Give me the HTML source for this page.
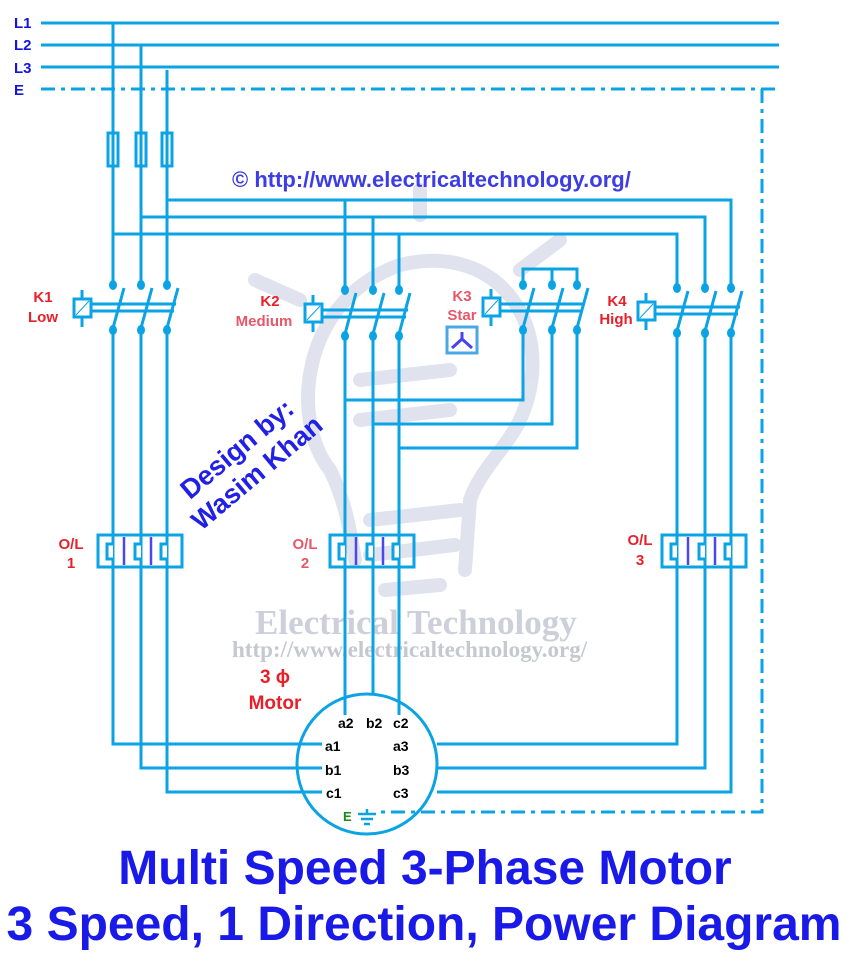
<!DOCTYPE html>
<html><head><meta charset="utf-8"><style>
html,body{margin:0;padding:0;background:#fff;}
svg{display:block;}
.w{stroke:#0aa3e4;stroke-width:3;fill:none;}
.t{font-family:"Liberation Sans",sans-serif;font-weight:bold;}
</style></head><body>
<svg width="849" height="965" viewBox="0 0 849 965" xmlns="http://www.w3.org/2000/svg">
<!-- watermark bulb -->
<g stroke="#d3d8e8" stroke-width="14" fill="none" stroke-linecap="round" opacity="0.7">
<path d="M330 470 C290 420 300 300 400 265 C500 240 560 330 520 420 C505 450 480 470 470 500"/>
<path d="M330 470 C345 500 350 530 355 560"/>
<path d="M470 500 L465 570"/>
<path d="M360 380 L450 370 M360 420 L450 410"/>
<path d="M370 520 L460 510 M370 555 L455 545 M385 590 L440 585"/>
<path d="M255 280 L300 300 M560 240 L520 270 M420 190 L420 215"/>
</g>
<text x="255" y="634" font-family="Liberation Serif,serif" font-size="35" font-weight="bold" fill="#cdd0da">Electrical Technology</text>
<text x="232" y="657" font-family="Liberation Serif,serif" font-size="23" font-weight="bold" fill="#c6c8d0">http://www.electricaltechnology.org/</text>

<!-- supply lines -->
<g class="t" fill="#1515e0" font-size="15">
<text x="14" y="28">L1</text><text x="14" y="50">L2</text><text x="14" y="73">L3</text><text x="14" y="95">E</text>
</g>
<g class="w">
<line x1="41" y1="23" x2="779" y2="23"/>
<line x1="41" y1="45" x2="779" y2="45"/>
<line x1="41" y1="67" x2="779" y2="67"/>
<path d="M41 89 H779" stroke-dasharray="14,6,4,6"/>
<path d="M762 89 V812 H380" stroke-dasharray="14,6,4,6"/>
<rect x="108" y="133" width="10" height="33"/><rect x="136" y="133" width="10" height="33"/><rect x="162" y="133" width="10" height="33"/>
<path d="M113 23 V285 M113 330 V744 H322"/>
<path d="M141 45 V285 M141 330 V768 H322"/>
<path d="M167 70 V285 M167 330 V792 H322"/>
<path d="M167 200 H731 V288"/>
<path d="M141 217 H705 V288"/>
<path d="M113 234 H677 V288"/>
<path d="M345 200 V290 M345 336 V715"/>
<path d="M373 217 V290 M373 336 V693"/>
<path d="M399 234 V290 M399 336 V715"/>
<path d="M523 285 V269 H577 V285 M552 269 V285"/>
<path d="M523 330 V400 H345"/>
<path d="M552 330 V424 H373"/>
<path d="M577 330 V448 H399"/>
<path d="M677 333 V744 H437"/>
<path d="M705 333 V768 H437"/>
<path d="M731 333 V792 H437"/>
<path d="M113 328 L124 288 M141 328 L152 288 M167 328 L178 288"/>
<path d="M345 334 L356 293 M373 334 L384 293 M399 334 L410 293"/>
<path d="M523 328 L534 288 M552 328 L563 288 M577 328 L588 288"/>
<path d="M677 331 L688 291 M705 331 L716 291 M731 331 L742 291"/>
<path d="M91 304 H176 M91 311 H174"/>
<path d="M322 310 H408 M322 317 H406"/>
<path d="M500 304 H583 M500 311 H581"/>
<path d="M655 307 H740 M655 314 H738"/>
<rect x="74" y="299" width="17" height="18"/><path d="M82 290 V299 M82 317 V327"/>
<rect x="305" y="304" width="17" height="18"/><path d="M313 295 V304 M313 322 V332"/>
<rect x="483" y="298" width="17" height="18"/><path d="M491 289 V298 M491 316 V326"/>
<rect x="638" y="302" width="17" height="18"/><path d="M646 293 V302 M646 320 V330"/>
<rect x="98" y="535" width="84" height="32"/>
<rect x="330" y="535" width="84" height="32"/>
<rect x="662" y="535" width="84" height="32"/>
<circle cx="367" cy="764" r="70"/>
</g>
<g stroke="#0aa3e4" stroke-width="1"><path d="M76 315 L89 301 M307 320 L320 306 M485 314 L498 300 M640 318 L653 304"/></g>
<g fill="#fff" stroke="#0aa3e4" stroke-width="3">
<path d="M113 544 H107 V559 H113 M141 544 H135 V559 H141 M167 544 H161 V559 H167"/>
<path d="M345 544 H339 V559 H345 M373 544 H367 V559 H373 M399 544 H393 V559 H399"/>
<path d="M677 544 H671 V559 H677 M705 544 H699 V559 H705 M731 544 H725 V559 H731"/>
</g>
<g stroke="#4848ee" stroke-width="2.5">
<path d="M124 537 V565 M151 537 V565 M356 537 V565 M383 537 V565 M688 537 V565 M715 537 V565"/>
</g>
<g fill="#0aa3e4">
<ellipse cx="113" cy="285" rx="4" ry="5"/><ellipse cx="141" cy="285" rx="4" ry="5"/><ellipse cx="167" cy="285" rx="4" ry="5"/>
<ellipse cx="113" cy="330" rx="4" ry="5"/><ellipse cx="141" cy="330" rx="4" ry="5"/><ellipse cx="167" cy="330" rx="4" ry="5"/>
<ellipse cx="345" cy="290" rx="4" ry="5"/><ellipse cx="373" cy="290" rx="4" ry="5"/><ellipse cx="399" cy="290" rx="4" ry="5"/>
<ellipse cx="345" cy="336" rx="4" ry="5"/><ellipse cx="373" cy="336" rx="4" ry="5"/><ellipse cx="399" cy="336" rx="4" ry="5"/>
<ellipse cx="523" cy="285" rx="4" ry="5"/><ellipse cx="552" cy="285" rx="4" ry="5"/><ellipse cx="577" cy="285" rx="4" ry="5"/>
<ellipse cx="523" cy="330" rx="4" ry="5"/><ellipse cx="552" cy="330" rx="4" ry="5"/><ellipse cx="577" cy="330" rx="4" ry="5"/>
<ellipse cx="677" cy="288" rx="4" ry="5"/><ellipse cx="705" cy="288" rx="4" ry="5"/><ellipse cx="731" cy="288" rx="4" ry="5"/>
<ellipse cx="677" cy="333" rx="4" ry="5"/><ellipse cx="705" cy="333" rx="4" ry="5"/><ellipse cx="731" cy="333" rx="4" ry="5"/>
</g>
<rect x="447" y="327" width="30" height="26" fill="none" stroke="#4aa8e6" stroke-width="3"/>
<path d="M462 339 V332 M462 339 L452 348 M462 339 L472 348" stroke="#4444ee" stroke-width="3" fill="none"/>
<g stroke="#0aa3e4" stroke-width="2.5"><path d="M367 809 V814 M358 814 H376 M361 819 H373 M364 824 H370"/></g>
<g class="t" fill="#e8202a" font-size="15" text-anchor="middle">
<text x="43" y="302">K1</text><text x="43" y="322">Low</text>
<text x="270" y="306">K2</text><text x="264" y="326" fill="#e8566a">Medium</text>
<text x="462" y="301" fill="#e8566a">K3</text><text x="462" y="320" fill="#e8566a">Star</text>
<text x="617" y="306">K4</text><text x="616" y="324">High</text>
<text x="71" y="549">O/L</text><text x="71" y="568">1</text>
<text x="305" y="549" fill="#e8566a">O/L</text><text x="305" y="568" fill="#e8566a">2</text>
<text x="640" y="545">O/L</text><text x="640" y="565">3</text>
<text x="275" y="683" font-size="19">3 ϕ</text>
<text x="275" y="709" font-size="19">Motor</text>
</g>
<g class="t" fill="#000" font-size="14">
<text x="338" y="728">a2</text><text x="366" y="728">b2</text><text x="393" y="728">c2</text>
<text x="325" y="751">a1</text><text x="325" y="775">b1</text><text x="326" y="798">c1</text>
<text x="393" y="751">a3</text><text x="393" y="775">b3</text><text x="393" y="798">c3</text>
</g>
<text x="343" y="821" class="t" font-size="13" fill="#1a8a1a">E</text>
<text x="232" y="187" class="t" font-size="22" fill="#3d3de6">© http://www.electricaltechnology.org/</text>
<g transform="translate(248,462) rotate(-40)" class="t" fill="#2020e6" font-size="27" text-anchor="middle">
<text x="0" y="-8">Design by:</text><text x="0" y="23">Wasim Khan</text>
</g>
<g class="t" fill="#1a1ae8" font-size="48" text-anchor="middle">
<text x="425" y="884">Multi Speed 3-Phase Motor</text>
<text x="424" y="940">3 Speed, 1 Direction, Power Diagram</text>
</g>
</svg>
</body></html>
